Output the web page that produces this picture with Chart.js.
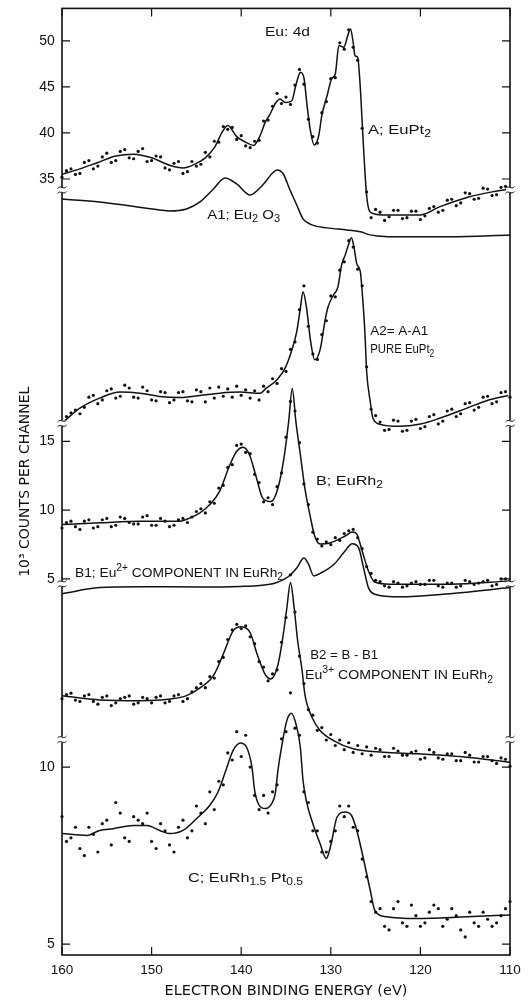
<!DOCTYPE html>
<html><head><meta charset="utf-8">
<script src="https://cdn.jsdelivr.net/npm/chart.js@4/dist/chart.umd.min.js"></script>
<style>html,body{margin:0;padding:0;background:#fff;}canvas{display:block;}</style>
</head><body>
<canvas id="c" width="531" height="1004" style="width:531px;height:1004px"></canvas>
<script>
// ---------- DATA (electron binding energy in eV, counts in 10^3 per channel) ----------
const xTicks = [160, 150, 140, 130, 120, 110];
const ticksA = [35, 40, 45, 50];
const ticksB = [5, 10, 15];
const ticksC = [5, 10];

// A; EuPt2 (fitted curve)
const energyA = [160,158,156,154,152,150,148,146.5,145,144,143,142,141.5,140.5,139.7,138.6,137.9,137.3,136.75,136.2,135.65,135.1,134.35,133.95,133.6,133.4,133.0,132.65,132.3,131.85,131.35,131.0,130.4,129.9,129.5,129.1,128.55,128.1,127.8,127.5,127.3,127.0,126.7,126.5,126.3,126.0,125.6,124.2,122,120,117.8,114.8,112,110];
const countsA = [35.5,36.1,36.8,37.5,37.7,37.3,36.5,36.2,36.7,37.3,38.4,40.3,40.8,39.6,39.1,38.65,39.7,41.2,42.1,43.2,43.7,43.3,43.5,45.0,46.2,46.6,46.0,43.0,40.4,38.7,39.7,41.9,44.1,45.9,46.4,49.5,49.3,50.6,51.3,49.8,48.4,48.2,44.8,41.2,37.6,33.2,31.4,31.1,31.1,31.1,32.0,33.0,33.6,33.9];
// A1; Eu2O3
const energyA1 = [160,155.8,149.1,148.0,146.1,144.6,143.1,141.8,140.5,139.0,137.6,136.5,136.0,135.3,134.6,133.8,133.1,132.1,130.4,128.2,126.7,125.6,124.8,122.3,116.7,110];
const countsA1 = [32.83,32.51,31.64,31.53,31.75,32.51,33.92,35.11,34.46,33.27,34.35,35.65,35.98,35.54,33.92,32.18,30.67,30.02,29.69,29.47,29.26,28.93,28.82,28.72,28.72,28.93];
// A2 = A - A1 (pure EuPt2)
const energyA2 = [160,158.0,155.8,153.5,151.3,149.1,146.8,144.6,142.4,140.1,137.9,137.2,136.0,135.1,134.4,133.8,133.4,133.1,132.7,132.3,131.8,131.2,130.6,130.3,129.7,129.2,128.8,128.4,128.1,127.7,127.4,127.1,126.7,126.5,126.2,126.0,125.6,125.3,124.5,122.3,120.0,117.8,114.8,112.6,110.2];
const countsA2 = [8.49,10.11,11.20,11.85,11.74,11.38,11.27,11.49,11.74,11.85,11.74,12.28,13.19,14.45,16.26,18.42,20.95,22.76,20.95,17.70,15.36,16.44,19.86,21.13,22.40,23.30,25.65,26.73,27.63,28.61,27.52,25.79,24.92,22.76,18.42,14.09,10.84,9.03,8.35,8.13,8.38,9.03,10.11,10.92,11.49];
// B; EuRh2
const energyB = [160,155.8,151.3,146.8,145.7,144.6,143.5,142.4,141.25,140.5,139.8,139.1,138.35,137.6,136.7,135.9,135.2,134.7,134.3,133.9,133.4,132.9,132.3,131.8,131.2,130.1,128.4,127.6,127.1,126.5,125.8,125.1,123.4,116.7,110];
const countsB = [8.96,9.08,9.20,9.20,9.44,9.80,10.41,11.38,13.31,14.28,14.57,14.06,12.46,10.87,10.62,11.59,13.91,16.45,18.84,16.45,14.04,11.62,9.57,8.12,7.54,7.61,8.12,8.41,8.26,7.03,5.58,4.78,4.62,4.62,4.86];
// B1; Eu2+ component in EuRh2
const energyB1 = [160,155.8,151.3,144.6,140.1,137.9,136.2,134.8,133.8,133.0,132.5,131.9,131.1,129.6,128.5,127.6,126.9,126.35,125.8,125.1,122.3,116.7,110];
const countsB1 = [3.93,4.37,4.44,4.42,4.46,4.53,4.71,5.14,5.80,6.52,6.09,5.22,5.43,6.09,6.96,7.56,7.27,5.82,4.37,3.89,3.70,3.93,4.37];
// B2 = B - B1 (Eu3+ component)
const energyB2 = [160,155.8,151.3,147.9,146.1,144.6,143.1,142.0,140.9,140.0,139.0,138.2,137.3,136.7,135.9,135.3,134.9,134.5,134.1,133.7,133.2,132.9,132.1,131.2,129.7,127.5,124.1,120.4,114.8,110];
const countsB2 = [-3.48,-3.79,-3.84,-3.72,-3.48,-2.92,-2.03,-0.46,1.23,1.52,1.09,-0.51,-1.96,-2.27,-1.23,0.99,2.92,4.75,2.97,0.51,-1.67,-3.36,-5.05,-6.01,-6.74,-7.34,-7.59,-7.70,-7.95,-8.31];
// C; EuRh1.5Pt0.5
const energyC = [160,157.2,155.8,154.3,152.0,150.5,149.1,148.0,146.5,145.0,143.5,142.6,141.6,140.9,140.1,139.4,138.8,138.5,138.1,137.3,136.6,136.2,135.9,135.5,134.9,134.4,133.8,133.4,133.1,132.7,132.0,131.2,130.5,130.0,129.3,128.4,127.7,127.1,126.4,125.6,125.1,123.8,120.4,114.8,110];
const countsC = [8.12,8.07,8.21,8.26,8.35,8.35,8.21,8.12,8.21,8.54,8.92,9.29,9.99,10.47,10.68,10.56,10.0,9.34,8.97,8.83,8.97,9.25,9.91,10.56,11.32,11.52,11.13,10.56,9.62,9.01,8.40,7.84,7.42,7.79,8.59,8.73,8.64,8.21,7.46,6.52,5.96,5.77,5.72,5.77,5.82];

// measured channels (dots)
const dotEnergy = [160,159,158,157,156,155,154,153,152,151,150,149,148,147,146,145,
  144,143.5,143,142.5,142,141.5,141,140.5,140,139.5,139,138.5,138,137.5,137,136.5,136,135.5,135,134.5,134,133.5,133,132.5,132,131.5,131,130.5,130,129.5,129,128.5,128,127.5,127,126.5,126,125.5,125,
  124,123,122,121,120,119,118,117,116,115,114,113,112,111,110];
const dotEnergyHalf = [159.5,158.5,157.5,156.5,155.5,154.5,153.5,152.5,151.5,150.5,149.5,148.5,147.5,146.5,145.5,144.5,
  124.5,123.5,122.5,121.5,120.5,119.5,118.5,117.5,116.5,115.5,114.5,113.5,112.5,111.5,110.5];
const dotsA = [35.2,36.1,35.6,37.0,36.4,37.8,37.0,38.2,37.2,38.3,37.0,37.4,36.0,36.9,35.8,36.4,
  37.9,37.4,39.1,39.0,40.7,40.4,40.6,39.3,39.7,38.6,38.4,39.1,39.2,41.3,41.4,42.9,44.3,43.2,43.9,43.1,45.2,46.9,45.3,41.5,39.6,38.9,42.2,43.4,45.9,46.0,49.8,49.1,51.2,49.3,47.9,40.5,33.6,30.8,31.7,
  30.5,31.6,30.7,31.5,30.6,31.8,31.4,32.7,32.1,33.5,32.8,34.0,33.2,34.1,33.6];
const dotsAHalf = [35.9,35.5,36.8,36.1,37.4,36.8,38.0,37.3,38.0,36.9,37.5,36.2,36.7,35.6,36.9,36.6,
  31.4,30.9,31.6,30.8,31.5,31.0,32.0,31.6,32.8,32.4,33.4,32.9,33.9,33.3,34.2];
const dotsA2 = [8.2,9.6,9.5,11.3,10.6,12.0,11.2,12.6,11.3,12.4,11.0,11.9,10.7,11.8,10.9,12.1,
  10.8,12.3,11.2,12.4,11.4,12.2,11.3,12.5,11.5,12.1,11.2,12.0,11.0,12.5,11.9,13.3,12.8,14.4,14.1,16.5,17.3,20.8,23.4,19.0,16.0,15.4,18.1,19.6,22.3,22.2,25.1,26.0,28.3,27.6,25.2,23.4,14.6,10.0,9.3,
  7.7,8.8,7.6,8.7,7.9,9.2,8.4,9.8,9.2,10.6,9.9,11.3,10.6,11.8,11.3];
const dotsA2Half = [9.2,9.9,10.2,11.5,11.0,12.2,11.4,12.3,11.2,12.0,10.9,11.8,11.0,11.9,10.8,11.9,
  8.6,7.8,8.7,7.7,8.9,8.1,9.4,8.7,10.0,9.5,10.7,10.2,11.4,10.8,11.9];
const dotsB = [8.7,9.2,8.6,9.3,8.8,9.4,8.9,9.4,9.0,9.5,8.9,9.4,8.8,9.3,9.1,9.9,
  9.8,10.6,10.5,11.6,11.8,13.1,13.3,14.7,14.8,14.2,14.1,12.6,12.0,10.6,10.9,10.4,11.7,12.7,15.3,17.9,17.2,14.9,11.9,10.4,8.4,7.9,7.4,7.7,7.5,8.0,7.8,8.3,8.5,8.6,8.0,7.2,5.9,5.4,4.9,
  4.5,4.8,4.4,4.7,4.6,4.9,4.5,4.7,4.4,4.9,4.6,4.8,4.5,5.0,4.7];
const dotsBHalf = [9.1,8.8,9.2,8.7,9.3,8.8,9.5,9.1,9.0,9.6,8.9,9.2,8.9,9.4,9.5,10.1,
  4.8,4.4,4.7,4.5,4.8,4.6,4.9,4.4,4.7,4.5,4.8,4.7,4.9,4.6,5.0];
const dotsB2 = [-3.7,-3.3,-3.9,-3.4,-4.1,-3.5,-4.0,-3.6,-4.1,-3.6,-4.0,-3.5,-3.9,-3.4,-3.7,-2.9,
  -2.9,-2.1,-2.2,-1.0,-0.7,0.6,1.3,1.7,1.4,1.6,0.8,0.3,-1.0,-1.4,-2.4,-1.9,-1.6,0.4,2.2,5.3,2.6,-0.6,-2.6,-4.5,-4.9,-6.0,-5.8,-6.7,-6.3,-7.1,-6.7,-7.4,-6.9,-7.6,-7.1,-7.7,-7.2,-7.8,-7.3,
  -7.9,-7.3,-7.8,-7.6,-8.1,-7.4,-8.0,-7.7,-8.2,-7.6,-8.3,-7.9,-8.2,-8.0,-8.6];
const dotsB2Half = [-3.4,-3.8,-3.5,-3.9,-3.6,-4.2,-3.7,-3.5,-4.0,-3.7,-3.6,-4.0,-3.5,-3.9,-3.2,-2.6,
  -7.4,-7.9,-7.5,-7.8,-7.5,-8.0,-7.6,-8.1,-7.7,-8.2,-7.8,-8.3,-7.9,-8.4,-8.1];
const dotsC = [8.6,8.0,7.7,8.3,7.6,8.5,9.0,8.0,8.6,8.4,7.9,8.4,7.8,8.3,8.0,8.9,
  8.4,9.3,8.8,9.6,9.5,10.4,10.2,11.0,10.3,10.9,10.0,9.2,8.8,9.2,8.7,9.3,9.5,10.8,11.0,12.1,11.1,10.9,9.3,9.0,8.2,8.2,7.6,7.6,7.9,8.2,8.9,8.6,8.9,8.3,8.2,7.4,6.9,6.2,5.9,
  5.5,6.0,5.6,6.1,5.5,5.9,6.0,5.7,5.8,5.2,5.6,5.9,5.5,5.8,6.2];
const dotsCHalf = [7.9,8.3,7.5,8.1,8.4,7.8,8.7,7.9,8.5,8.7,7.7,8.2,7.6,8.5,8.2,8.7,
  6.0,5.4,6.2,5.5,5.8,5.6,6.1,5.5,6.0,5.4,5.9,5.5,5.7,5.6,6.0];

// axis breaks (in units of the middle scale)
const axisBreaks = [33.26, 16.30, 4.64, -6.67];

// ---------- STYLE / LAYOUT ----------
const INK = '#111111';
const FAM = '"Liberation Sans", Arial, sans-serif';
const FAM2 = '"DejaVu Sans", sans-serif';

const notes = [
  {axis:'yA', e:137.35, v:50.93, w:45,  segs:['Eu: 4d']},
  {axis:'yA', e:125.85, v:40.31, w:63,  segs:['A; EuPt',{k:'sub',t:'2'}]},
  {axis:'yA', e:143.8,  v:31.1,  w:73,  segs:['A1; Eu',{k:'sub',t:'2'},' O',{k:'sub',t:'3'}]},
  {axis:'yA', e:125.6,  v:18.42, w:58,  segs:['A2= A-A1']},
  {axis:'yA', e:125.6,  v:16.47, w:64,  segs:['PURE EuPt',{k:'sub',t:'2'}]},
  {axis:'yB', e:131.65, v:12.1,  w:67,  segs:['B; EuRh',{k:'sub',t:'2'}]},
  {axis:'yB', e:158.55, v:5.43,  w:208, segs:['B1; Eu',{k:'sup',t:'2+'},' COMPONENT IN EuRh',{k:'sub',t:'2'}]},
  {axis:'yB', e:132.3,  v:-0.58, w:68,  segs:['B2 = B - B1']},
  {axis:'yB', e:132.88, v:-2.03, w:188, segs:['Eu',{k:'sup',t:'3+'},' COMPONENT IN EuRh',{k:'sub',t:'2'}]},
  {axis:'yC', e:145.94, v:6.86,  w:115, segs:['C; EuRh',{k:'sub',t:'1.5'},' Pt',{k:'sub',t:'0.5'}]}
];

const pts = (xs, ys) => xs.map((x, i) => ({x: x, y: ys[i]}));
function lineDs(label, xs, ys, axis) {
  return {label, data: pts(xs, ys), yAxisID: axis, borderColor: INK, borderWidth: 1.5,
    pointRadius: 0, cubicInterpolationMode: 'monotone', fill: false, clip: false};
}
function dotDs(label, xs, ys, axis) {
  return {label, data: pts(xs, ys), yAxisID: axis, showLine: false, pointRadius: 1.6,
    pointBackgroundColor: INK, pointBorderWidth: 0, borderColor: INK, clip: false};
}

function drawRich(ctx, segs, x, y, w) {
  const base = 13.5, small = 10;
  let total = 0;
  const parts = segs.map(s => {
    const o = typeof s === 'string' ? {t: s, k: 'n'} : Object.assign({}, s);
    ctx.font = (o.k === 'n' ? base : small) + 'px ' + FAM;
    o.w = ctx.measureText(o.t).width; total += o.w; return o;
  });
  ctx.save();
  ctx.translate(x, y);
  ctx.scale(w / total, 1);
  ctx.textBaseline = 'middle'; ctx.textAlign = 'left'; ctx.fillStyle = INK;
  let cx = 0;
  parts.forEach(o => {
    ctx.font = (o.k === 'n' ? base : small) + 'px ' + FAM;
    const dy = o.k === 'sub' ? 4.5 : (o.k === 'sup' ? -5 : 0);
    ctx.fillText(o.t, cx, dy); cx += o.w;
  });
  ctx.restore();
}

const decor = {
  id: 'decor',
  afterDatasetsDraw(chart) {
    const {ctx, chartArea: a, scales: s} = chart;
    ctx.save();
    ctx.strokeStyle = INK;
    ctx.lineWidth = 1.6;
    ctx.strokeRect(a.left, a.top, a.right - a.left, a.bottom - a.top);
    ctx.lineWidth = 1.2;
    const T = 8;
    ctx.beginPath();
    s.x.ticks.forEach(t => {
      const p = s.x.getPixelForValue(t.value);
      ctx.moveTo(p, a.bottom); ctx.lineTo(p, a.bottom - T);
      ctx.moveTo(p, a.top); ctx.lineTo(p, a.top + T);
    });
    ['yA', 'yB', 'yC'].forEach(id => s[id].ticks.forEach(t => {
      const p = s[id].getPixelForValue(t.value);
      ctx.moveTo(a.left, p); ctx.lineTo(a.left + T, p);
      ctx.moveTo(a.right, p); ctx.lineTo(a.right - T, p);
    }));
    ctx.stroke();
    axisBreaks.forEach(v => {
      const p = s.yB.getPixelForValue(v);
      [a.left, a.right].forEach(x => {
        ctx.fillStyle = '#fff';
        ctx.fillRect(x - 4, p - 3, 8, 6);
        ctx.beginPath();
        [-2.5, 2.5].forEach(d => {
          ctx.moveTo(x - 4.5, p + d + 1);
          ctx.bezierCurveTo(x - 1.5, p + d - 3, x + 1.5, p + d + 3, x + 4.5, p + d - 1);
        });
        ctx.strokeStyle = INK; ctx.lineWidth = 1; ctx.stroke();
      });
    });
    notes.forEach(n => {
      drawRich(ctx, n.segs, s.x.getPixelForValue(n.e), s[n.axis].getPixelForValue(n.v), n.w);
    });
    ctx.restore();
  }
};

const setTicks = arr => (scale) => { scale.ticks = arr.map(v => ({value: v})); };
const yCommon = {
  type: 'linear', position: {x: 160.8},
  grid: {display: false, drawTicks: false}, border: {display: false},
  ticks: {color: INK, font: {family: FAM, size: 14}, autoSkip: false, padding: 0}
};

new Chart(document.getElementById('c'), {
  type: 'line',
  data: {
    datasets: [
      lineDs('A; EuPt2', energyA, countsA, 'yA'),
      dotDs('A data', dotEnergy, dotsA, 'yA'),
      dotDs('A data (half channels)', dotEnergyHalf, dotsAHalf, 'yA'),
      lineDs('A1; Eu2O3', energyA1, countsA1, 'yA'),
      lineDs('A2 = A - A1', energyA2, countsA2, 'yA'),
      dotDs('A2 data', dotEnergy, dotsA2, 'yA'),
      dotDs('A2 data (half channels)', dotEnergyHalf, dotsA2Half, 'yA'),
      lineDs('B; EuRh2', energyB, countsB, 'yB'),
      dotDs('B data', dotEnergy, dotsB, 'yB'),
      dotDs('B data (half channels)', dotEnergyHalf, dotsBHalf, 'yB'),
      lineDs('B1; Eu2+ component', energyB1, countsB1, 'yB'),
      lineDs('B2 = B - B1', energyB2, countsB2, 'yB'),
      dotDs('B2 data', dotEnergy, dotsB2, 'yB'),
      dotDs('B2 data (half channels)', dotEnergyHalf, dotsB2Half, 'yB'),
      lineDs('C; EuRh1.5Pt0.5', energyC, countsC, 'yC'),
      dotDs('C data', dotEnergy, dotsC, 'yC'),
      dotDs('C data (half channels)', dotEnergyHalf, dotsCHalf, 'yC')
    ]
  },
  options: {
    responsive: false, animation: false, devicePixelRatio: 1,
    layout: {padding: {left: 14, top: 6, right: 21, bottom: 4}},
    plugins: {legend: {display: false}, tooltip: {enabled: false}},
    scales: {
      x: {
        type: 'linear', position: 'bottom', reverse: true, min: 110, max: 160,
        afterBuildTicks: setTicks(xTicks),
        grid: {display: false, drawTicks: false}, border: {display: false},
        ticks: {color: INK, font: {family: FAM, size: 13.5}, padding: 7, autoSkip: false, maxRotation: 0},
        title: {display: true, text: 'ELECTRON BINDING ENERGY (eV)', color: INK,
          font: {family: FAM2, size: 14.5}, padding: {top: 0, bottom: 0}},
        afterFit(s) { s.height = 45; }
      },
      yT: {
        type: 'linear', position: 'left', min: 0, max: 1,
        grid: {display: false, drawTicks: false}, border: {display: false},
        ticks: {display: false},
        title: {display: true, text: '10³ COUNTS PER CHANNEL', color: INK,
          font: {family: FAM2, size: 14}, padding: {top: 3, bottom: 0}},
        afterFit(s) { s.width = 48; }
      },
      yA: Object.assign({}, yCommon, {min: -49.29, max: 53.53, afterBuildTicks: setTicks(ticksA)}),
      yB: Object.assign({}, yCommon, {min: -22.32, max: 46.45, afterBuildTicks: setTicks(ticksB)}),
      yC: Object.assign({}, yCommon, {min: 4.69, max: 31.44, afterBuildTicks: setTicks(ticksC)})
    }
  },
  plugins: [decor]
});
</script>
</body></html>
